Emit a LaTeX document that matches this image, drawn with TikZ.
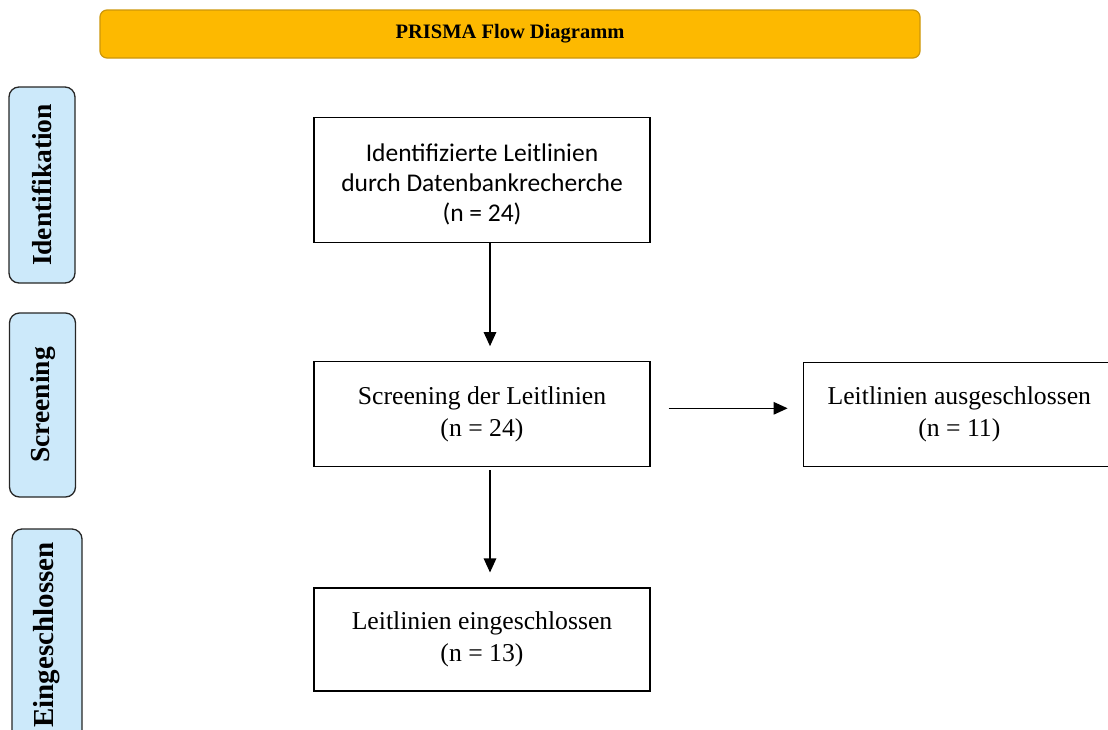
\documentclass[tikz,border=0pt]{standalone}
\usepackage{fontspec}
\setmainfont{Liberation Serif}
\newfontfamily\calibri{Carlito}
\usepackage{tikz}
\usetikzlibrary{positioning,arrows.meta}
\definecolor{headfill}{RGB}{253,185,0}
\definecolor{headline}{RGB}{204,150,10}
\definecolor{sidefill}{RGB}{204,233,250}
\tikzset{head/.style={rectangle,rounded corners=7pt,draw=headline,line width=1.2pt,fill=headfill,
		minimum width=820pt,minimum height=48pt,font=\bfseries\fontsize{20.5}{24}\selectfont},
	 side/.style={rectangle,rounded corners=10pt,draw=black!85,line width=1.3pt,fill=sidefill,
		rotate=90,minimum height=66pt,font=\bfseries\fontsize{27.5}{30}\selectfont},
	 box/.style={rectangle,draw,line width=1.3pt,minimum width=336pt,align=center,
		font=\fontsize{25.7}{32}\selectfont},
	 arr/.style={-{Triangle[length=14pt,width=12.5pt]},line width=1.3pt}
	 }
\begin{document}
\begin{tikzpicture}[x=1pt,y=-1pt]
	\useasboundingbox (0,0) rectangle (1108,729);
	\clip (0,0) rectangle (1108,729);
	\node[head] (title) at (510,34) {PRISMA Flow Diagramm};
	\node[side,minimum width=196pt] (ident) at (42,185) {Identifikation};
	\node[side,minimum width=184pt] (screen) at (42.5,405) {Screening};
	\node[side,minimum width=212pt,minimum height=70pt,font=\bfseries\fontsize{29}{30}\selectfont] (incl) at (47,635) {Eingeschlossen};
	\node[box,minimum height=125pt,font=\calibri\fontsize{25.5}{30}\selectfont] (idbox) at (482,180)
		{\rule{0pt}{26pt}Identifizierte Leitlinien\\durch Datenbankrecherche\\(n = 24)};
	\node[box,minimum height=105pt] (scrbox) [below=118pt of idbox] {Screening der Leitlinien\\(n = 24)};
	\node[box,minimum height=103pt] (inclbox) [below=120pt of scrbox] {Leitlinien eingeschlossen\\(n = 13)};
	\node[box,minimum height=104pt,minimum width=312pt] (exclbox) [right=152pt of scrbox]
		{Leitlinien ausgeschlossen\\(n = 11)};
	\draw[arr,shorten >=15pt] ([xshift=8pt]idbox.south) to ([xshift=8pt]scrbox.north);
	\draw[arr,shorten <=3pt,shorten >=15pt] ([xshift=8pt]scrbox.south) to ([xshift=8pt]inclbox.north);
	\draw[arr,shorten <=18pt,shorten >=15pt] ([yshift=6pt]scrbox.east) to ([yshift=6pt]exclbox.west);
\end{tikzpicture}
\end{document}
